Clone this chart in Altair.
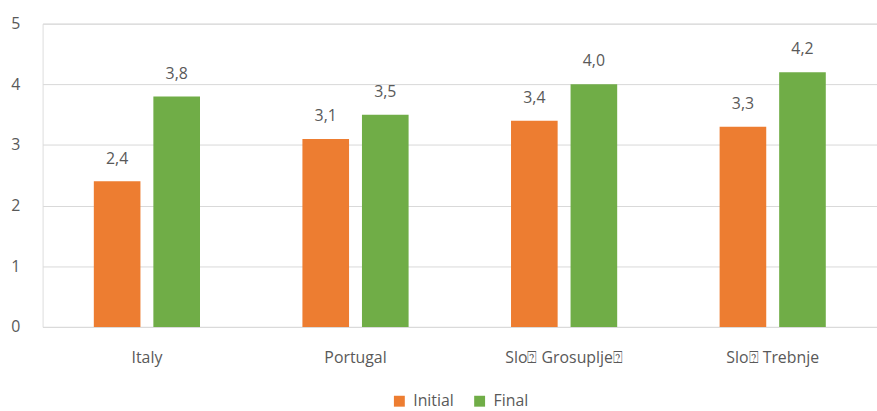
import altair as alt
import pandas as pd

# Sites and mean scores, before and after
sites = ["Italy", "Portugal", "Slo\u2370 Grosuplje\u2370", "Slo\u2370 Trebnje"]
initial = [2.4, 3.1, 3.4, 3.3]
final = [3.8, 3.5, 4.0, 4.2]
phases = ["Initial", "Final"]
colors = ["#ED7D31", "#70AD47"]

rows = []
for s, a, b in zip(sites, initial, final):
    rows.append({"site": s, "phase": "Initial", "value": a})
    rows.append({"site": s, "phase": "Final", "value": b})
df = pd.DataFrame(rows)

FONT = "Open Sans"
TXT = "#595959"
FS = 16

base = alt.Chart(df).encode(
    x=alt.X(
        "site:N",
        sort=sites,
        title=None,
        scale=alt.Scale(paddingInner=0, paddingOuter=0),
        axis=alt.Axis(
            labelAngle=0,
            labelFont=FONT,
            labelFontSize=FS,
            labelColor=TXT,
            labelBaseline="alphabetic",
            labelPadding=36,
            domain=False,
            ticks=False,
        ),
    ),
    xOffset=alt.XOffset(
        "phase:N",
        sort=phases,
        scale=alt.Scale(paddingInner=0.217, paddingOuter=0.86),
    ),
    y=alt.Y(
        "value:Q",
        title=None,
        scale=alt.Scale(domain=[0, 5], nice=False),
        axis=alt.Axis(
            values=[0, 1, 2, 3, 4, 5],
            labelFont=FONT,
            labelFontSize=FS,
            labelColor=TXT,
            labelPadding=23,
            domain=False,
            ticks=False,
            gridColor="#D9D9D9",
            gridWidth=1,
        ),
    ),
)

bars = base.mark_bar().encode(
    color=alt.Color(
        "phase:N",
        sort=phases,
        scale=alt.Scale(domain=phases, range=colors),
        legend=alt.Legend(
            title=None,
            orient="none",
            legendX=352,
            legendY=373,
            direction="horizontal",
            symbolType="square",
            symbolSize=121,
            symbolStrokeWidth=0,
            labelFont=FONT,
            labelFontSize=FS,
            labelColor=TXT,
            labelOffset=6,
            columnPadding=18,
            padding=0,
        ),
    )
)

labels = base.mark_text(
    baseline="alphabetic", dy=-18, font=FONT, fontSize=FS, color=TXT
).transform_calculate(
    label="replace(format(datum.value, '.1f'), '.', ',')"
).encode(text="label:N")

chart = (
    (bars + labels)
    .properties(
        width=842,
        height=306,
        autosize=alt.AutoSizeParams(type="none"),
        padding={"left": 43, "top": 22, "right": 0, "bottom": 83},
    )
    .configure_view(stroke=None)
    .configure(background="white")
)

chart.save("out.html", embed_options={"renderer": "svg", "actions": False})
